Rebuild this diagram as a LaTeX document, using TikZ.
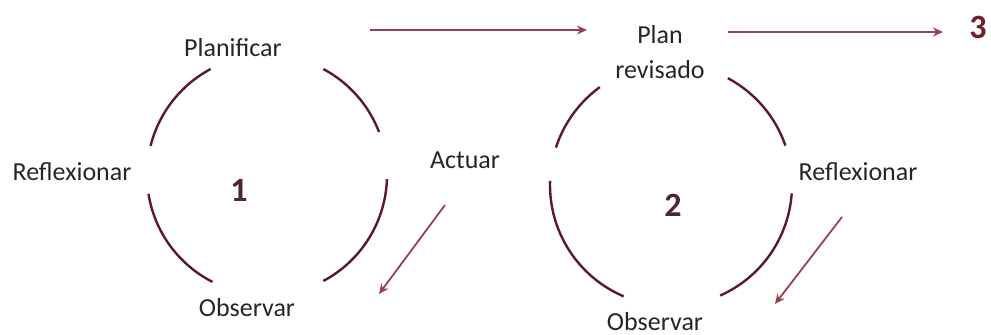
\documentclass[tikz,border=0pt]{standalone}
\usepackage{fontspec}
\setmainfont{Carlito}
\usetikzlibrary{arrows.meta}
\definecolor{arccol}{HTML}{5C1A28}
\definecolor{arrcol}{HTML}{9A4150}
\definecolor{numcol}{HTML}{4E2630}

\begin{document}
\begin{tikzpicture}[>={Stealth[length=5pt,width=4.5pt]},x=0.5pt,y=0.5pt,font=\fontsize{13}{17.5}\selectfont]
\tikzstyle{lbl}=[inner sep=0pt,text=black!85,align=center]
\tikzstyle{num}=[inner sep=0pt,font=\fontsize{17}{19}\selectfont\bfseries,text=numcol]
\tikzstyle{ring}=[draw=arccol,line width=1.2pt]
\tikzstyle{go}=[->,draw=arrcol,line width=0.9pt]
\useasboundingbox (0,0) rectangle (991,-335);
% first cycle
\coordinate (c1) at (267,-175);
\foreach \a/\b in {21/62,118/166,189/243,298/358}
  \draw[ring] (c1) ++(\a:120) arc[start angle=\a,end angle=\b,radius=120];
\node[lbl] (plan1) at (233,-48) {Planificar};
\node[lbl] (refl1) at (72,-172) {Reflexionar};
\node[lbl] (act1) at (465,-160) {Actuar};
\node[lbl] (obs1) at (247,-308) {Observar};
\node[num] (n1) at (239,-190) {1};
% second cycle
\coordinate (c2) at (671,-185);
\foreach \a/\b in {19/62,126/162,178/247,294/356}
  \draw[ring] (c2) ++(\a:121) arc[start angle=\a,end angle=\b,radius=121];
\node[lbl] (plan2) at (660,-52) {Plan\\revisado};
\node[lbl] (refl2) at (858,-172) {Reflexionar};
\node[lbl] (obs2) at (655,-322) {Observar};
\node[num] (n2) at (673,-205) {2};
\node[num,text=numcol!80!red] (n3) at (978,-27) {3};
% arrows
\coordinate (h1a) at (370,-30); \coordinate (h1b) at (587,-30);
\coordinate (h2a) at (728,-32); \coordinate (h2b) at (943,-32);
\coordinate (d1a) at (445,-205); \coordinate (d1b) at (379,-294);
\coordinate (d2a) at (842,-217); \coordinate (d2b) at (775,-304);
\draw[go] (h1a) -- (h1b);
\draw[go] (h2a) -- (h2b);
\draw[go] (d1a) -- (d1b);
\draw[go] (d2a) -- (d2b);
\end{tikzpicture}
\end{document}
